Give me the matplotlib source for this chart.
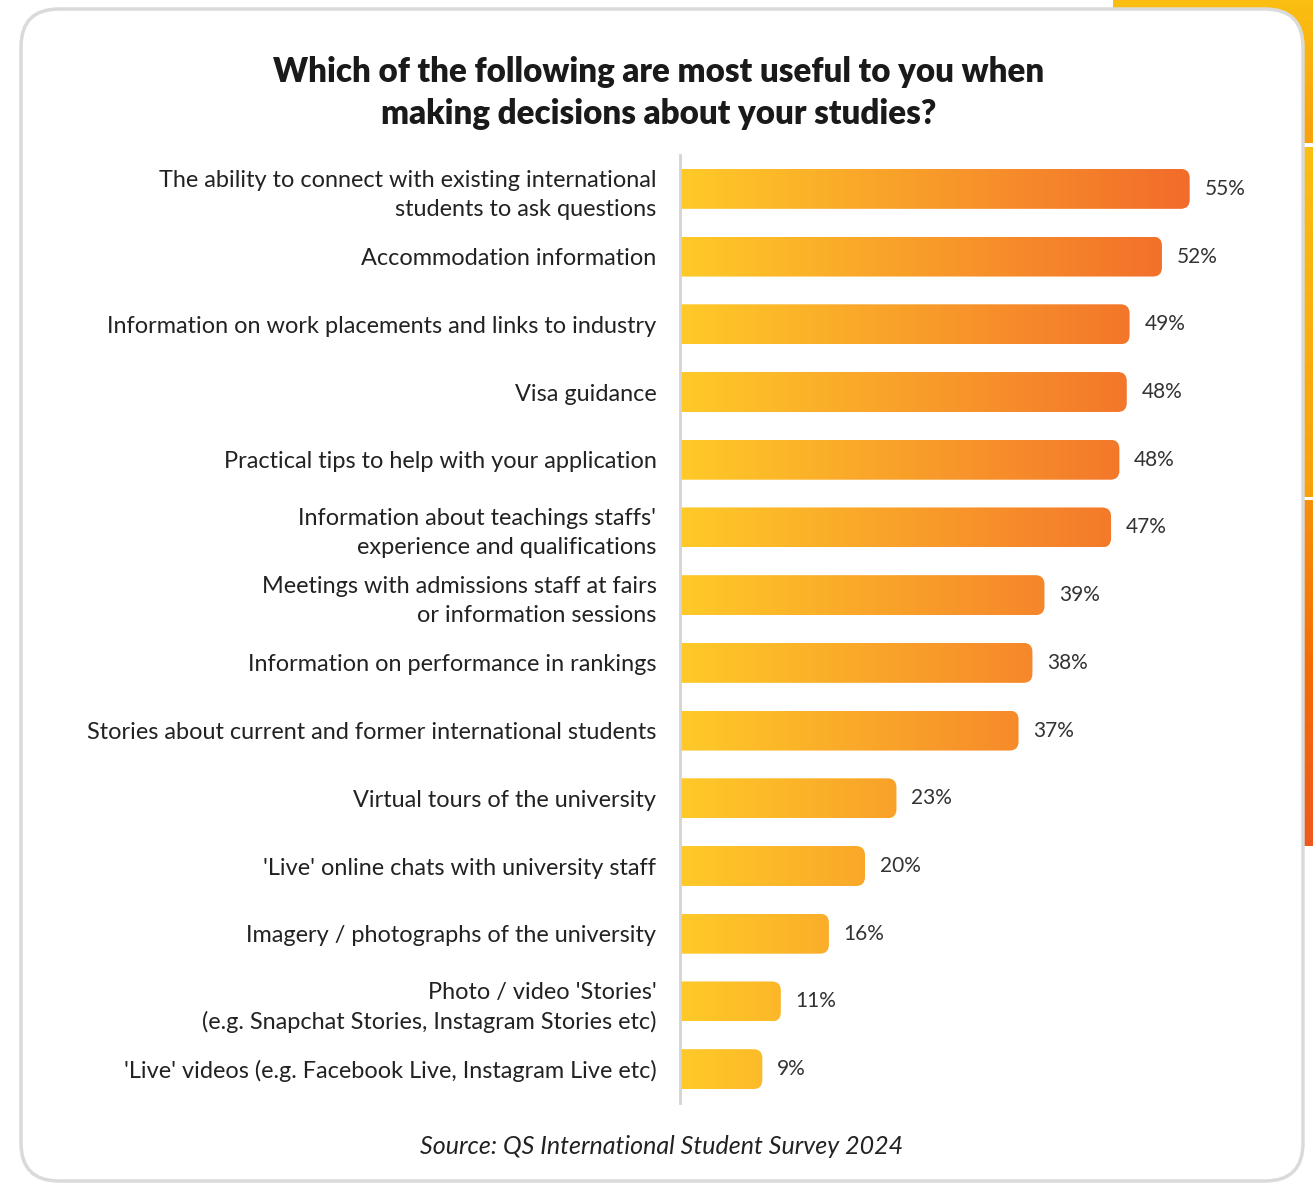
import matplotlib.pyplot as plt
import numpy as np
from matplotlib.patches import FancyBboxPatch
from matplotlib.colors import LinearSegmentedColormap

# data (top to bottom)
categories = [
    "The ability to connect with existing international\nstudents to ask questions",
    "Accommodation information",
    "Information on work placements and links to industry",
    "Visa guidance",
    "Practical tips to help with your application",
    "Information about teachings staffs'\nexperience and qualifications",
    "Meetings with admissions staff at fairs\nor information sessions",
    "Information on performance in rankings",
    "Stories about current and former international students",
    "Virtual tours of the university",
    "'Live' online chats with university staff",
    "Imagery / photographs of the university",
    "Photo / video 'Stories'\n(e.g. Snapchat Stories, Instagram Stories etc)",
    "'Live' videos (e.g. Facebook Live, Instagram Live etc)",
]
values = [55.1, 52.1, 48.6, 48.3, 47.5, 46.6, 39.4, 38.1, 36.6, 23.4, 20.0, 16.1, 10.9, 8.9]
pct_labels = ["55%", "52%", "49%", "48%", "48%", "47%", "39%", "38%", "37%", "23%", "20%", "16%", "11%", "9%"]

title = "Which of the following are most useful to you when\nmaking decisions about your studies?"
source = "Source: QS International Student Survey 2024"

FONT = "Lato"
W, H = 1313, 1183
fig = plt.figure(figsize=(W / 100, H / 100), dpi=100)

# background: decorations + card, in pixel coords
bg = fig.add_axes([0, 0, 1, 1], zorder=0)
bg.set_xlim(0, W)
bg.set_ylim(H, 0)
bg.axis("off")

yel = LinearSegmentedColormap.from_list("y", ["#FBBE12", "#F8A10C"])
org = LinearSegmentedColormap.from_list("o", ["#F7900A", "#F56B05", "#EE5A1E"])
vgrad = np.linspace(0, 1, 256).reshape(-1, 1)
bg.imshow(vgrad, cmap=yel, extent=[1113, W, 143, 0], aspect="auto", zorder=0)
bg.imshow(vgrad, cmap=yel, extent=[1290, W, 497, 147], aspect="auto", zorder=0)
bg.imshow(vgrad, cmap=org, extent=[1290, W, 846, 500], aspect="auto", zorder=0)
bg.set_xlim(0, W)
bg.set_ylim(H, 0)

card = FancyBboxPatch((21, 9), 1282, 1172, boxstyle="round,pad=0,rounding_size=38",
                      facecolor="white", edgecolor="#dadada", linewidth=2.5, zorder=1)
bg.add_patch(card)

bg.text(659, 93, title, ha="center", va="center", fontsize=23.8, fontweight="heavy",
        family=FONT, color="#1a1a1a", linespacing=1.4, zorder=2)
bg.text(662, 1146, source, ha="center", va="center", fontsize=18, style="italic",
        family=FONT, color="#222222", zorder=2)

# main chart
x0, px_per = 680, 9.25
xmax = 60
ytop, ybot = 155, 1103
ax = fig.add_axes([x0 / W, 1 - ybot / H, xmax * px_per / W, (ybot - ytop) / H], zorder=2)
ax.patch.set_alpha(0)

n = len(values)
ypos = np.arange(n)
bar_h = 0.59
row_px = (ybot - ytop) / n
r_px = 9
rx = r_px / px_per
ry = r_px / row_px

cmap = LinearSegmentedColormap.from_list("bar", ["#FFCA28", "#F8992A", "#F26A2B"])
hgrad = np.linspace(0, 1, 256).reshape(1, -1)

for y, v, lab in zip(ypos, values, pct_labels):
    box = FancyBboxPatch((-3, y - bar_h / 2), v + 3, bar_h,
                         boxstyle=f"round,pad=0,rounding_size={rx}",
                         mutation_aspect=ry / rx, facecolor="none", edgecolor="none")
    ax.add_patch(box)
    im = ax.imshow(hgrad, cmap=cmap, extent=[0, 56, y - bar_h / 2, y + bar_h / 2],
                   aspect="auto", zorder=1)
    im.set_clip_path(box)
    ax.text(v + 1.6, y, lab, ha="left", va="center", fontsize=15, family=FONT, color="#333333")

ax.set_xlim(0, xmax)
ax.set_ylim(n - 0.5, -0.5)
ax.set_yticks(ypos)
ax.set_yticklabels(categories, fontsize=16.9, family=FONT, color="#222222", linespacing=1.45)
ax.tick_params(axis="y", length=0, pad=17)
ax.set_xticks([])
for s in ["top", "right", "bottom"]:
    ax.spines[s].set_visible(False)
ax.spines["left"].set_color("#d4d4d4")
ax.spines["left"].set_linewidth(2)

fig.savefig("out.png", dpi=100)
